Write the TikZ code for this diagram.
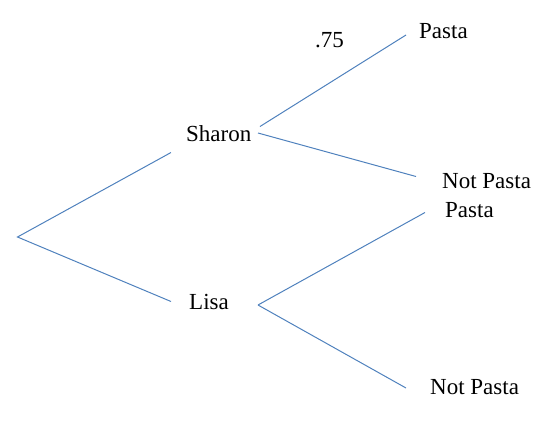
\documentclass[tikz,border=0pt]{standalone}
\usepackage{fontspec}
\setmainfont{Liberation Serif}
\newfontfamily\treefont{Liberation Serif}
\usepackage{xcolor}
\usepackage{tikz}
\definecolor{lineBlue}{RGB}{79, 129, 189}

\begin{document}
\begin{tikzpicture}[
        x=1pt, y=-1pt,
        font=\treefont\fontsize{23}{27}\selectfont,
        lbl/.style={anchor=west, inner sep=0pt, text=black},
        br/.style={line width=1pt, lineBlue}
    ]
    \useasboundingbox (0,0) rectangle (552,421);
    % labels
    \node[lbl] (sharon) at (186,134)   {Sharon};
    \node[lbl] (lisa)   at (189,302)   {Lisa};
    \node[lbl] (pastaA) at (419,31)    {Pasta};
    \node[lbl] (notA)   at (442,181)   {Not Pasta};
    \node[lbl] (pastaB) at (445,210)   {Pasta};
    \node[lbl] (notB)   at (430,387)   {Not Pasta};
    \node[lbl] (prob)   at (315,40)    {.75};
    % branch ends
    \coordinate (root) at (17.5,237);
    \coordinate (sIn)  at (171,152.5);
    \coordinate (lIn)  at (171,301.5);
    \coordinate (sUp)  at (260,126.5);
    \coordinate (sDn)  at (258,133);
    \coordinate (lOut) at (258,305);
    \coordinate (aEnd) at (406,35);
    \coordinate (bEnd) at (416,176.5);
    \coordinate (cEnd) at (425,212.5);
    \coordinate (dEnd) at (406,388);
    \draw[br] (sIn) -- (root) -- (lIn);
    \draw[br] (sUp) -- (aEnd);
    \draw[br] (sDn) -- (bEnd);
    \draw[br] (lOut) -- (cEnd);
    \draw[br] (lOut) -- (dEnd);
\end{tikzpicture}
\end{document}
